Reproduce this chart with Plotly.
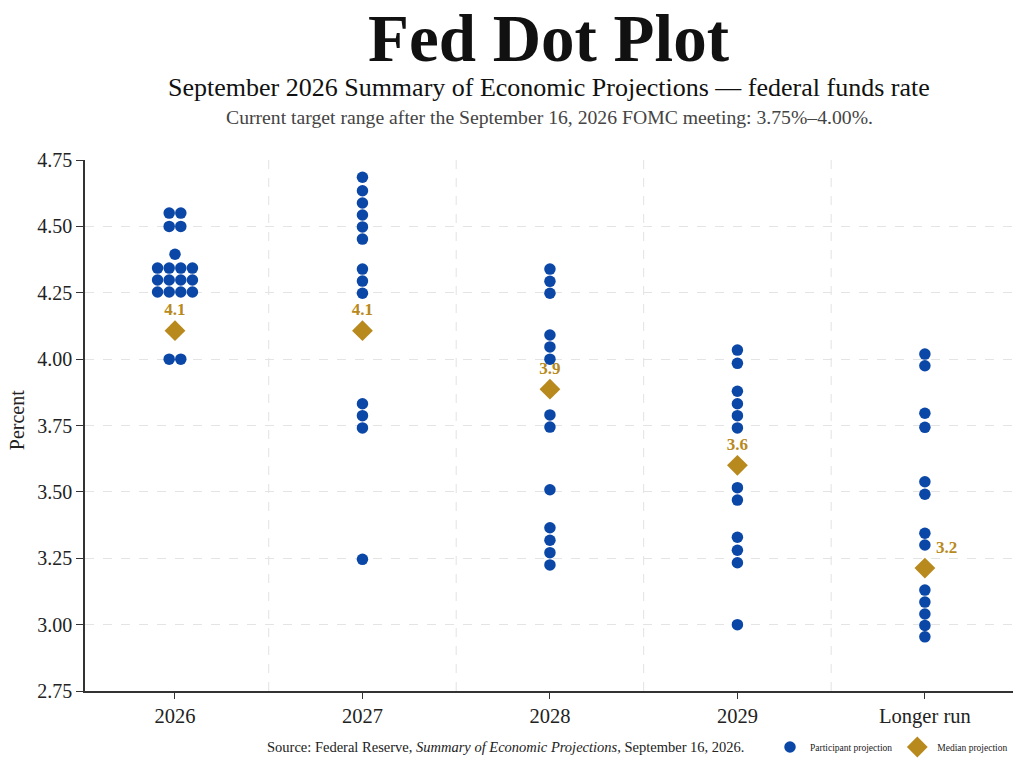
import plotly.graph_objects as go

# categories on the x axis
categories = ["2026", "2027", "2028", "2029", "Longer run"]

# participant dots per column (rate as drawn; repeated values sit side by side)
dots_2026 = [4.55, 4.55, 4.50, 4.50, 4.395,
             4.343, 4.343, 4.343, 4.343,
             4.298, 4.298, 4.298, 4.298,
             4.253, 4.253, 4.253, 4.253,
             4.00, 4.00]
dots_2027 = [4.685, 4.634, 4.588, 4.543, 4.498, 4.452,
             4.339, 4.294, 4.248, 3.832, 3.787, 3.741, 3.246]
dots_2028 = [4.339, 4.293, 4.248, 4.091, 4.046, 4.00, 3.790, 3.744,
             3.508, 3.365, 3.318, 3.271, 3.225]
dots_2029 = [4.034, 3.984, 3.879, 3.832, 3.787, 3.741, 3.516, 3.469,
             3.329, 3.280, 3.233, 3.00]
dots_longer = [4.019, 3.975, 3.796, 3.743, 3.538, 3.491, 3.344, 3.300,
               3.130, 3.085, 3.040, 2.997, 2.954]

# medians
median_values = [4.107, 4.107, 3.887, 3.600, 3.213]
median_labels = ["4.1", "4.1", "3.9", "3.6", "3.2"]

y_ticks = [2.75, 3.00, 3.25, 3.50, 3.75, 4.00, 4.25, 4.50, 4.75]

BLUE = "#0b47a6"
GOLD = "#b8891c"
SERIF = "Liberation Serif, Times New Roman, serif"

all_dots = [dots_2026, dots_2027, dots_2028, dots_2029, dots_longer]
spacing = 0.062  # horizontal gap between side-by-side dots

xs, ys = [], []
for i, col in enumerate(all_dots):
    counts = {}
    for v in col:
        counts[v] = counts.get(v, 0) + 1
    for v, n in counts.items():
        for k in range(n):
            xs.append(i + (k - (n - 1) / 2) * spacing)
            ys.append(v)

fig = go.Figure()

fig.add_trace(go.Scatter(
    x=xs, y=ys, mode="markers",
    marker=dict(color=BLUE, size=11.5, symbol="circle"),
    name="Participant projection",
))

fig.add_trace(go.Scatter(
    x=list(range(len(categories))), y=median_values,
    mode="markers+text",
    marker=dict(color=GOLD, size=16, symbol="diamond"),
    text=["<b>%s</b>" % t for t in median_labels],
    textposition=["top center"] * 4 + ["top right"],
    textfont=dict(family=SERIF, size=17, color=GOLD),
    name="Median projection",
))

# dashed separators between the columns
shapes = [
    dict(type="line", xref="x", yref="paper", x0=i + 0.5, x1=i + 0.5, y0=0, y1=1,
         line=dict(color="#e2e2e2", width=1, dash="dash"), layer="below")
    for i in range(len(categories) - 1)
]

annotations = [
    dict(text="<b>Fed Dot Plot</b>", x=0.5, xref="paper", y=1 + 122 / 531, yref="paper",
         xanchor="center", yanchor="middle", showarrow=False,
         font=dict(family=SERIF, size=67, color="#111")),
    dict(text="September 2026 Summary of Economic Projections — federal funds rate",
         x=0.5, xref="paper", y=1 + 72 / 531, yref="paper",
         xanchor="center", yanchor="middle", showarrow=False,
         font=dict(family=SERIF, size=26, color="#111")),
    dict(text="Current target range after the September 16, 2026 FOMC meeting: 3.75%–4.00%.",
         x=0.5, xref="paper", y=1 + 43 / 531, yref="paper",
         xanchor="center", yanchor="middle", showarrow=False,
         font=dict(family=SERIF, size=19.7, color="#444")),
    dict(text="Percent", textangle=-90, x=-68 / 928, xref="paper", y=0.51, yref="paper",
         xanchor="center", yanchor="middle", showarrow=False,
         font=dict(family=SERIF, size=20, color="#222")),
    dict(text="Source: Federal Reserve, <i>Summary of Economic Projections</i>, September 16, 2026.",
         x=(265 - 85) / 928, xref="paper", y=-56 / 531, yref="paper",
         xanchor="left", yanchor="middle", showarrow=False,
         font=dict(family=SERIF, size=14.5, color="#222")),
]

fig.update_layout(
    width=1024, height=768,
    margin=dict(l=85, r=11, t=160, b=77, autoexpand=False),
    paper_bgcolor="white", plot_bgcolor="white",
    font=dict(family=SERIF, color="#222"),
    shapes=shapes,
    annotations=annotations,
    showlegend=True,
    legend=dict(orientation="h", x=1.0, xanchor="right", y=-56 / 531, yanchor="middle",
                font=dict(family=SERIF, size=9.5, color="#222"),
                itemwidth=30, bgcolor="rgba(0,0,0,0)"),
    xaxis=dict(
        range=[-0.48, 4.47], automargin=False,
        tickvals=list(range(len(categories))), ticktext=categories,
        showgrid=False, zeroline=False,
        showline=True, linecolor="#333", linewidth=1.5,
        ticks="outside", ticklen=6, tickcolor="#333",
        tickfont=dict(family=SERIF, size=20.5, color="#222"),
    ),
    yaxis=dict(
        range=[2.75, 4.75], tickvals=y_ticks, automargin=False,
        ticktext=["%.2f" % t for t in y_ticks],
        showgrid=True, gridcolor="#e4e4e4", griddash="dash", gridwidth=1,
        zeroline=False,
        showline=True, linecolor="#333", linewidth=1.5,
        ticks="outside", ticklen=7, tickcolor="#333",
        tickfont=dict(family=SERIF, size=20, color="#222"),
    ),
)

fig.write_html("out.html", config={"displayModeBar": False},
               post_script="document.body.style.margin='0';")
